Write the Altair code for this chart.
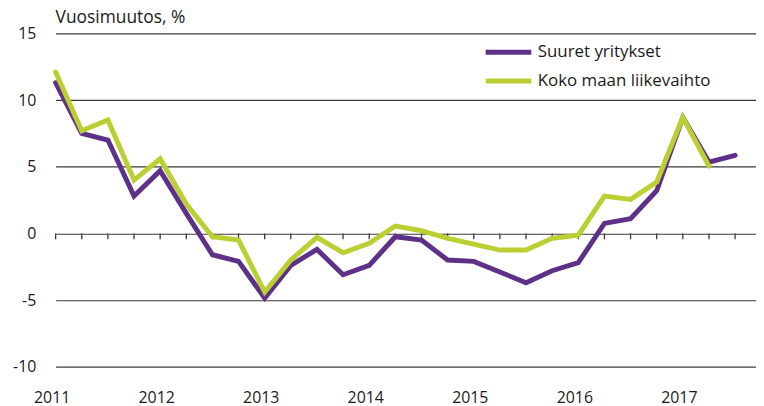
import altair as alt
import pandas as pd

# ---- data ----
years = [2011, 2012, 2013, 2014, 2015, 2016, 2017]
quarters = list(range(27))  # 2011Q1 .. 2017Q3
suuret = [11.3, 7.5, 7.0, 2.8, 4.7, 1.5, -1.6, -2.1, -4.85, -2.4, -1.2, -3.1, -2.4,
          -0.25, -0.5, -2.0, -2.1, -2.9, -3.7, -2.8, -2.2, 0.75, 1.1, 3.2, 8.7, 5.35, 5.85]
koko = [12.1, 7.7, 8.5, 4.0, 5.6, 2.2, -0.25, -0.5, -4.4, -2.0, -0.3, -1.45, -0.75,
        0.55, 0.2, -0.37, -0.8, -1.25, -1.25, -0.37, -0.13, 2.8, 2.55, 3.85, 8.7, 5.05]
series_names = ["Suuret yritykset", "Koko maan liikevaihto"]
colors = ["#5E3189", "#BBCF33"]
y_ticks = [-10, -5, 0, 5, 10, 15]
year_ticks = [4 * i for i in range(len(years))]

rows = []
for name, vals in zip(series_names, [suuret, koko]):
    for q, v in zip(quarters, vals):
        rows.append({"q": q, "v": v, "s": name})
df = pd.DataFrame(rows)
ticks_df = pd.DataFrame({"q": quarters})

FONT = "Open Sans"
TEXT = "#1a1a1a"

x_enc = alt.X(
    "q:Q",
    scale=alt.Scale(domain=[0, 26.8], nice=False, zero=False),
    axis=alt.Axis(
        values=year_ticks,
        labelExpr="'' + (2011 + datum.value / 4)",
        ticks=False, domain=False, grid=False,
        labelFlush=False, labelOverlap=False,
        labelPadding=23, labelOffset=-4,
        labelFontSize=16, labelFont=FONT, labelColor=TEXT,
        title=None,
    ),
)
y_enc = alt.Y(
    "v:Q",
    scale=alt.Scale(domain=[-10, 15], nice=False, zero=False),
    axis=alt.Axis(
        values=y_ticks,
        labelExpr="'' + datum.value",
        grid=True, gridColor="#3a3a3a", gridWidth=1.2,
        domain=False, ticks=False,
        labelPadding=20, labelFontSize=16, labelFont=FONT, labelColor=TEXT,
        title=None,
    ),
)
color_enc = alt.Color(
    "s:N",
    scale=alt.Scale(domain=series_names, range=colors),
    legend=alt.Legend(
        orient="none", legendX=431, legendY=9, title=None,
        symbolType="stroke", symbolSize=2116, symbolStrokeWidth=5,
        labelFontSize=17, labelFont=FONT, labelColor=TEXT, labelLimit=400,
        padding=0, labelOffset=4, clipHeight=20, rowPadding=9,
    ),
)

tick_layer = alt.Chart(ticks_df).mark_rule(
    color="#3a3a3a", strokeWidth=1.3, y2Offset=6
).encode(x=x_enc, y=alt.datum(0), y2=alt.datum(0))

base = alt.Chart(df)
purple = base.transform_filter(alt.datum.s == series_names[0]).mark_line(
    strokeWidth=5, strokeCap="round"
).encode(x=x_enc, y=y_enc, color=color_enc)
green = base.transform_filter(alt.datum.s == series_names[1]).mark_line(
    strokeWidth=5, strokeCap="round"
).encode(x=x_enc, y=y_enc, color=color_enc)

chart = alt.layer(tick_layer, purple, green).properties(
    width=706,
    height=336,
    autosize=alt.AutoSizeParams(type="none"),
    padding={"left": 48, "top": 24, "right": 0, "bottom": 37},
    title=alt.TitleParams(
        "Vuosimuutos, %", anchor="start", frame="group", fontSize=17.5,
        fontWeight="normal", font=FONT, color=TEXT, offset=-1,
    ),
).configure_view(stroke=None)

chart.save("out.html", embed_options={"renderer": "svg", "actions": False})
